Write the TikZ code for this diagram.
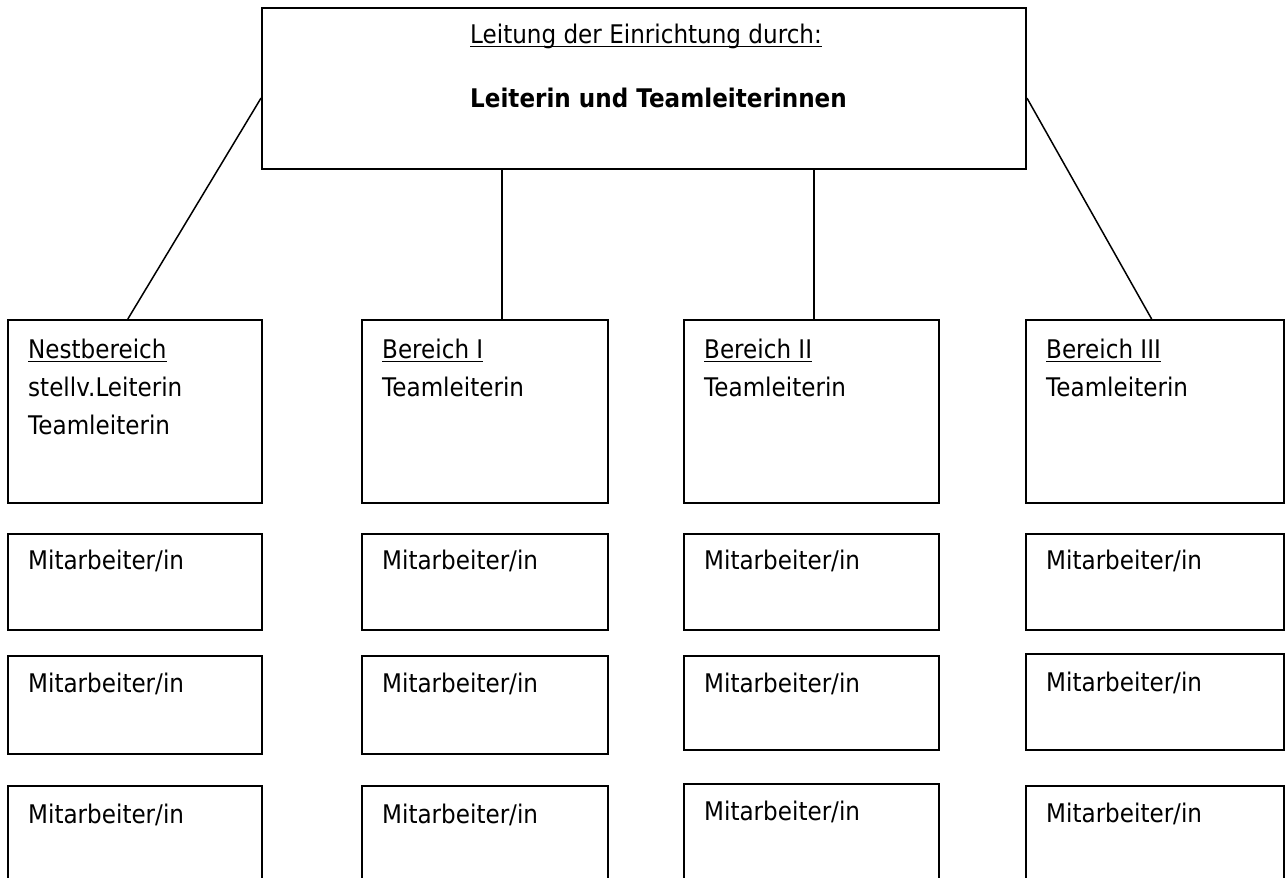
\documentclass[tikz,border=0pt]{standalone}
\usepackage{fontspec}
\setmainfont{DejaVu Sans}[FakeStretch=0.9]
\usetikzlibrary{calc}
\newcommand\myul[1]{\setbox0\hbox{#1}\rlap{\rule[-4pt]{\wd0}{1.5pt}}\box0}
\newcommand\fs{\fontsize{25.65}{30}\selectfont}
\begin{document}
\begin{tikzpicture}[x=1pt,y=-1pt,
  box/.style={draw, line width=2pt, inner sep=0pt, anchor=north west},
  conn/.style={line width=1.5pt},
  txt/.style={anchor=base west, inner sep=0pt, font=\fs}]
\useasboundingbox (0,0) rectangle (1285,878);

% top box
\node[box, minimum width=764pt, minimum height=161pt] (top) at (261,7) {};
\node[txt] (t1) at (470,43) {\myul{Leitung der Einrichtung durch:}};
\node[txt, font=\fs\bfseries] (t2) at (470,107) {Leiterin und Teamleiterinnen};

% row 1
\node[box, minimum width=254pt, minimum height=183pt] (n1) at (7,319) {};
\node[box, minimum width=246pt, minimum height=183pt] (b1) at (361,319) {};
\node[box, minimum width=255pt, minimum height=183pt] (b2) at (683,319) {};
\node[box, minimum width=258pt, minimum height=183pt] (b3) at (1025,319) {};

\node[txt] (n1a) at (28,358) {\myul{Nestbereich}};
\node[txt] (n1b) at (28,396.5) {stellv.Leiterin};
\node[txt] (n1c) at (28,434) {Teamleiterin};
\node[txt] (b1a) at (382,358) {\myul{Bereich I}};
\node[txt] (b1b) at (382,396.5) {Teamleiterin};
\node[txt] (b2a) at (704,358) {\myul{Bereich II}};
\node[txt] (b2b) at (704,396.5) {Teamleiterin};
\node[txt] (b3a) at (1046,358) {\myul{Bereich III}};
\node[txt] (b3b) at (1046,396.5) {Teamleiterin};

% row 2
\node[box, minimum width=254pt, minimum height=96pt] (m21) at (7,533) {};
\node[box, minimum width=246pt, minimum height=96pt] (m22) at (361,533) {};
\node[box, minimum width=255pt, minimum height=96pt] (m23) at (683,533) {};
\node[box, minimum width=258pt, minimum height=96pt] (m24) at (1025,533) {};
\node[txt] at (28,569) {Mitarbeiter/in};
\node[txt] at (382,569) {Mitarbeiter/in};
\node[txt] at (704,569) {Mitarbeiter/in};
\node[txt] at (1046,569) {Mitarbeiter/in};

% row 3
\node[box, minimum width=254pt, minimum height=98pt] (m31) at (7,655) {};
\node[box, minimum width=246pt, minimum height=98pt] (m32) at (361,655) {};
\node[box, minimum width=255pt, minimum height=94pt] (m33) at (683,655) {};
\node[box, minimum width=258pt, minimum height=96pt] (m34) at (1025,653) {};
\node[txt] at (28,692) {Mitarbeiter/in};
\node[txt] at (382,692) {Mitarbeiter/in};
\node[txt] at (704,692) {Mitarbeiter/in};
\node[txt] at (1046,691) {Mitarbeiter/in};

% row 4
\node[box, minimum width=254pt, minimum height=120pt] (m41) at (7,785) {};
\node[box, minimum width=246pt, minimum height=120pt] (m42) at (361,785) {};
\node[box, minimum width=255pt, minimum height=120pt] (m43) at (683,783) {};
\node[box, minimum width=258pt, minimum height=120pt] (m44) at (1025,785) {};
\node[txt] at (28,823) {Mitarbeiter/in};
\node[txt] at (382,823) {Mitarbeiter/in};
\node[txt] at (704,820) {Mitarbeiter/in};
\node[txt] at (1046,822) {Mitarbeiter/in};

% connectors
\coordinate (tl) at ($(top.north west)!0.559!(top.south west)$);
\coordinate (tr) at ($(top.north east)!0.559!(top.south east)$);
\coordinate (pn) at ($(n1.north west)!0.472!(n1.north east)$);
\coordinate (p1) at ($(b1.north west)!0.569!(b1.north east)$);
\coordinate (p2) at ($(b2.north west)!0.51!(b2.north east)$);
\coordinate (p3) at ($(b3.north west)!0.487!(b3.north east)$);
\draw[conn] (tl) -- (pn);
\draw[conn] (tr) -- (p3);
\draw[conn] (p1 |- top.south) -- (p1);
\draw[conn] (p2 |- top.south) -- (p2);
\end{tikzpicture}
\end{document}
